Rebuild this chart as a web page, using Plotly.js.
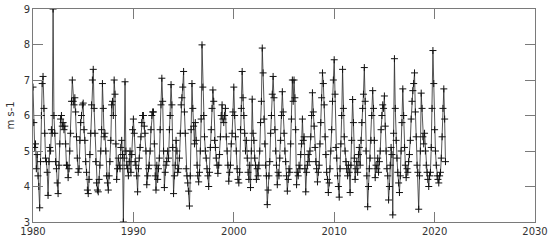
<!DOCTYPE html>
<html>
<head>
<meta charset="utf-8">
<script src="https://cdn.plot.ly/plotly-3.0.1.min.js"></script>
<style>
  html, body { margin: 0; padding: 0; background: #fff; }
  #chart { width: 550px; height: 243px; }
</style>
</head>
<body>
<div id="chart"></div>
<script>
/*globals document, Plotly*/

// monthly mean wind speed (m s-1), Jan 1980 onwards
var startYear = 1980;

var ws1980s = [
  6.8, 5.8, 5.1, 5.2, 4.5, 4.9, 4.3, 4.0, 3.4, 4.7, 6.0, 6.9,
  7.1, 6.2, 5.5, 4.8, 4.7, 4.4, 3.75, 4.7, 5.1, 5.0, 5.6, 5.5,
  9.0, 6.0, 5.5, 4.7, 4.5, 4.1, 3.8, 4.6, 5.2, 5.9, 6.0, 5.7,
  5.8, 5.6, 5.7, 5.2, 4.6, 4.6, 4.25, 4.5, 5.0, 5.5, 6.4, 7.0,
  6.4, 6.3, 6.5, 6.1, 5.4, 4.8, 4.4, 4.5, 5.3, 5.8, 6.0, 6.3,
  6.35, 5.6, 5.3, 4.7, 4.4, 3.9, 3.8, 4.2, 4.9, 5.5, 6.3, 7.0,
  7.3, 6.2, 5.5, 4.7, 4.1, 3.9, 3.85, 4.2, 4.6, 5.0, 5.6, 6.9,
  6.2, 5.4, 5.5, 5.0, 4.3, 4.1, 3.9, 4.3, 4.7, 5.3, 6.3, 6.4,
  6.0, 7.0, 6.6, 5.2, 4.2, 4.5, 4.8, 4.6, 4.5, 5.1, 5.3, 4.9,
  3.0, 4.8, 6.95, 5.0, 4.6, 4.5, 4.3, 4.7, 5.0, 4.4, 4.9, 5.6
];

var ws1990s = [
  5.9, 5.5, 4.7, 4.6, 4.3, 3.85, 4.5, 4.8, 5.1, 5.4, 5.8, 6.0,
  6.0, 5.7, 5.5, 5.0, 4.05, 4.3, 4.5, 4.6, 5.0, 5.6, 6.0, 6.1,
  6.1, 5.2, 4.3, 3.9, 4.6, 4.2, 4.5, 4.8, 5.6, 6.3, 7.05, 6.4,
  5.0, 3.97, 4.4, 4.6, 4.7, 5.0, 4.8, 5.6, 6.0, 6.87, 6.3, 5.1,
  3.8, 4.3, 4.6, 5.3, 5.0, 4.4, 4.5, 4.8, 5.5, 6.3, 6.5, 6.8,
  7.24, 6.1, 5.5, 4.5, 4.3, 4.1, 3.87, 3.45, 4.3, 5.6, 6.9, 6.2,
  5.7, 5.2, 5.8, 5.3, 4.6, 4.3, 4.13, 4.4, 5.0, 5.9, 7.99, 6.8,
  6.0, 5.4, 5.0, 4.8, 4.5, 4.3, 4.0, 4.4, 5.1, 5.6, 6.2, 6.72,
  6.4, 5.3, 5.1, 4.8, 4.6, 4.37, 4.6, 4.9, 5.4, 6.0, 6.3, 5.9,
  5.8, 6.0, 6.2, 5.4, 5.0, 4.6, 4.15, 4.4, 4.6, 5.2, 5.5, 6.1
];

var ws2000s = [
  6.8, 6.0, 5.4, 5.0, 4.5, 4.2, 4.1, 4.4, 5.6, 6.2, 7.24, 6.5,
  6.0, 5.5, 5.0, 5.3, 4.8, 4.4, 4.2, 4.6, 3.97, 5.0, 6.46, 5.5,
  5.3, 4.8, 4.6, 4.2, 4.5, 4.3, 4.6, 5.0, 5.8, 6.4, 7.9, 7.2,
  5.9, 5.2, 4.6, 4.3, 3.49, 3.9, 4.3, 4.7, 5.5, 6.0, 6.6, 7.1,
  6.5, 5.6, 5.0, 4.6, 4.05, 4.4, 4.3, 4.8, 5.3, 6.0, 6.67, 6.1,
  5.5, 5.0, 4.7, 4.3, 3.87, 4.2, 4.5, 4.4, 5.2, 5.9, 7.0, 6.4,
  7.0, 6.5, 5.6, 4.05, 4.4, 4.3, 4.6, 4.5, 4.9, 5.2, 5.9, 5.3,
  5.4, 4.5, 3.85, 4.4, 4.6, 4.9, 4.7, 5.0, 5.4, 6.0, 6.64, 6.1,
  5.7, 5.1, 4.7, 4.5, 4.13, 4.4, 4.6, 5.2, 5.8, 6.5, 7.2, 6.9,
  6.3, 5.4, 4.9, 4.4, 4.2, 3.83, 4.1, 4.5, 5.0, 5.6, 6.4, 7.0
];

var ws2010s = [
  7.57, 6.6, 5.1, 4.8, 4.3, 4.0, 3.7, 4.5, 5.2, 6.0, 7.3, 6.2,
  5.4, 5.0, 4.7, 4.5, 4.3, 4.6, 4.4, 3.83, 4.6, 5.3, 6.45, 5.8,
  4.8, 4.2, 4.5, 4.7, 4.4, 4.9, 5.1, 4.6, 5.3, 5.8, 6.2, 6.6,
  7.35, 6.4, 5.0, 4.3, 3.43, 4.0, 4.5, 4.8, 5.3, 6.0, 6.7, 6.2,
  5.3, 4.25, 4.6, 4.5, 4.8, 4.4, 4.7, 5.0, 5.6, 6.0, 6.3, 6.2,
  6.55, 5.7, 5.0, 4.5, 4.3, 3.62, 4.0, 4.6, 5.1, 4.9, 3.2, 5.5,
  7.6, 6.2, 5.3, 4.8, 4.4, 4.1, 3.83, 4.3, 5.0, 5.8, 6.75, 6.0,
  5.1, 4.6, 4.25, 4.5, 4.4, 4.7, 4.9, 5.3, 5.9, 6.4, 6.7, 6.9,
  7.2, 6.1, 5.4, 4.6, 4.4, 3.36, 4.3, 5.0, 6.63, 6.2, 5.4, 5.2,
  5.5, 5.0, 4.6, 4.4, 4.2, 4.0, 4.3, 4.4, 5.1, 6.2, 7.83, 6.9
];

var ws2020s = [
  5.6, 5.0, 4.6, 4.3, 4.2, 4.1, 4.3, 4.4, 4.8, 5.4, 6.2, 6.75,
  5.9, 4.7
];

var xTicks = [1980, 1990, 2000, 2010, 2020, 2030];
var yTicks = [3, 4, 5, 6, 7, 8, 9];
var yUnit = 'm s-1';

var values = ws1980s.concat(ws1990s, ws2000s, ws2010s, ws2020s);
var times = values.map(function (v, i) {
  return startYear + i / 12;
});

var trace = {
  x: times,
  y: values,
  type: 'scatter',
  mode: 'lines+markers',
  line: { color: '#2a2a2a', width: 0.8 },
  marker: {
    symbol: 'cross-thin',
    size: 5,
    line: { color: '#111', width: 1 }
  },
  hoverinfo: 'skip'
};

var axisStyle = {
  showline: true,
  mirror: 'ticks',
  linecolor: '#7a7a7a',
  linewidth: 1,
  ticks: 'inside',
  ticklen: 10,
  tickwidth: 1,
  tickcolor: '#7a7a7a',
  showgrid: false,
  zeroline: false,
  tickfont: { family: 'DejaVu Sans', size: 10, color: '#333' }
};

var layout = {
  width: 550,
  height: 243,
  margin: { l: 33, r: 15, t: 9, b: 21 },
  paper_bgcolor: '#fff',
  plot_bgcolor: '#fff',
  showlegend: false,
  xaxis: Object.assign({}, axisStyle, {
    range: [1980, 2030],
    tickvals: xTicks,
    ticktext: xTicks.map(String)
  }),
  yaxis: Object.assign({}, axisStyle, {
    range: [3, 9],
    tickvals: yTicks,
    ticktext: yTicks.map(String),
    ticklabelstandoff: 0
  }),
  // y title drawn as an annotation so it can sit right at the page edge
  annotations: [{
    text: yUnit,
    xref: 'paper',
    yref: 'paper',
    x: 0,
    y: 0.5,
    xanchor: 'center',
    yanchor: 'middle',
    xshift: -23,
    textangle: -90,
    showarrow: false,
    font: { family: 'DejaVu Sans', size: 10, color: '#333' }
  }]
};

Plotly.newPlot('chart', [trace], layout, { staticPlot: true, displayModeBar: false });
</script>
</body>
</html>
